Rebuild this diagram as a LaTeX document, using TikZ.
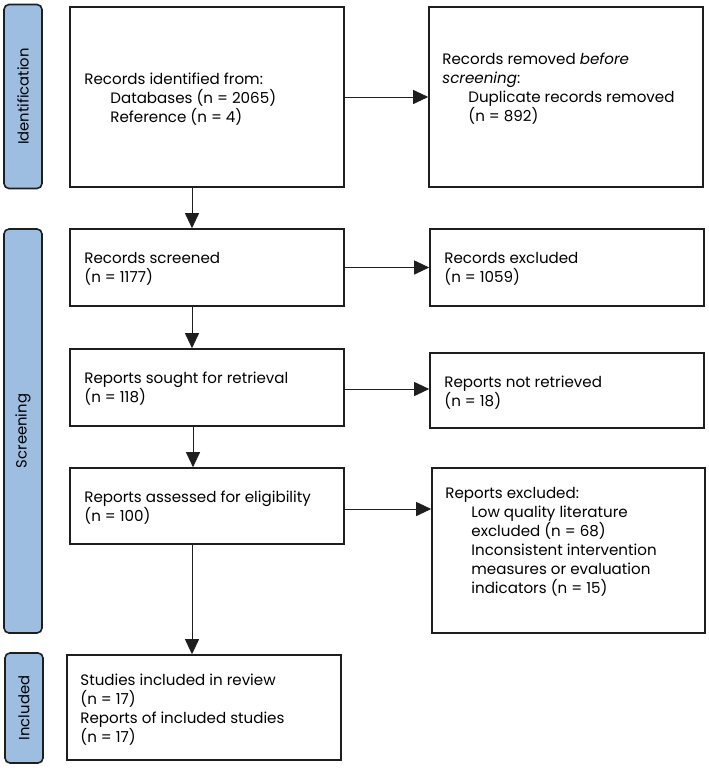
\documentclass[tikz,border=0pt]{standalone}
\usepackage{fontspec}
\setmainfont{Poppins}
\usetikzlibrary{arrows.meta}
\definecolor{phase}{RGB}{157,190,225}
\definecolor{edge}{RGB}{30,30,30}
\begin{document}
\begin{tikzpicture}[x=1pt,y=-1pt,
  box/.style={draw=edge,line width=1.6pt,fill=white,inner sep=0pt},
  phasebox/.style={draw=edge,line width=1.6pt,fill=phase,rounded corners=5pt,inner sep=0pt},
  txt/.style={anchor=west,align=left,font=\fontsize{15.1}{19}\selectfont,inner sep=0pt},
  ptxt/.style={rotate=90,font=\fontsize{14.8}{16}\selectfont,inner sep=0pt},
  arr/.style={draw=edge,line width=0.9pt,-{Triangle[length=15pt,width=14pt]}}]
\useasboundingbox (0,0) rectangle (709,768);
% phase labels
\node[phasebox,minimum width=38pt,minimum height=184pt] (pid) at (23,96.5) {};
\node[ptxt] at (pid.center) {Identification};
\node[phasebox,minimum width=38pt,minimum height=404pt] (psc) at (23,431) {};
\node[ptxt] at (psc.center) {Screening};
\node[phasebox,minimum width=38pt,minimum height=110pt] (pin) at (24,708) {};
\node[ptxt] at (pin.center) {Included};
% boxes
\node[box,minimum width=274pt,minimum height=180pt] (b1) at (207,97) {};
\node[box,minimum width=274pt,minimum height=180pt] (b2) at (566,97) {};
\node[box,minimum width=274pt,minimum height=77pt] (b3) at (207,267.5) {};
\node[box,minimum width=274pt,minimum height=77pt] (b4) at (207,387.5) {};
\node[box,minimum width=274pt,minimum height=76pt] (b5) at (207,506) {};
\node[box,minimum width=274pt,minimum height=105pt] (b6) at (204,707.5) {};
\node[box,minimum width=274pt,minimum height=77pt] (r3) at (567,267.5) {};
\node[box,minimum width=274pt,minimum height=75pt] (r4) at (567,390.5) {};
\node[box,minimum width=273pt,minimum height=165pt] (r5) at (568.5,550.5) {};
% texts
\node[txt] (t1) at ([xshift=15pt,yshift=-2pt]b1.west) {Records identified from:\\\hspace*{26pt}Databases (n = 2065)\\\hspace*{26pt}Reference (n = 4)};
\node[txt] (t2) at ([xshift=14pt,yshift=8.5pt]b2.west) {Records removed \textit{before}\\\textit{screening}:\\\hspace*{26pt}Duplicate records removed\\\hspace*{26pt}(n = 892)};
\node[txt] (t3) at ([xshift=15pt,yshift=-1pt]b3.west) {Records screened\\(n = 1177)};
\node[txt] (t4) at ([xshift=15pt,yshift=-1pt]b4.west) {Reports sought for retrieval\\(n = 118)};
\node[txt] (t5) at ([xshift=15pt,yshift=-1.5pt]b5.west) {Reports assessed for eligibility\\(n = 100)};
\node[txt] (t6) at ([xshift=14pt,yshift=-2pt]b6.west) {Studies included in review\\(n = 17)\\Reports of included studies\\(n = 17)};
\node[txt] (u3) at ([xshift=15pt,yshift=-1pt]r3.west) {Records excluded\\(n = 1059)};
\node[txt] (u4) at ([xshift=15pt,yshift=-2pt]r4.west) {Reports not retrieved\\(n = 18)};
\node[txt] (u5) at ([xshift=14pt,yshift=9pt]r5.west) {Reports excluded:\\\hspace*{26pt}Low quality literature\\\hspace*{26pt}excluded (n = 68)\\\hspace*{26pt}Inconsistent intervention\\\hspace*{26pt}measures or evaluation\\\hspace*{26pt}indicators (n = 15)};
% arrows
\draw[arr] (b1.east) -- (b2.west);
\draw[arr] (b3.east) -- (b3.east -| r3.west);
\draw[arr] ([yshift=-1.5pt]b4.east) -- ([yshift=-1.5pt]b4.east -| r4.west);
\draw[arr] ([yshift=-3pt]b5.east) -- ([yshift=-3pt]b5.east -| r5.west);
\draw[arr] ([xshift=-15pt]b1.south) -- ([xshift=-15pt]b1.south |- b3.north);
\draw[arr] ([xshift=-15pt]b3.south) -- ([xshift=-15pt]b3.south |- b4.north);
\draw[arr] ([xshift=-14pt]b4.south) -- ([xshift=-14pt]b4.south |- b5.north);
\draw[arr] ([xshift=-15pt]b5.south) -- ([xshift=-15pt]b5.south |- b6.north);
\end{tikzpicture}
\end{document}
